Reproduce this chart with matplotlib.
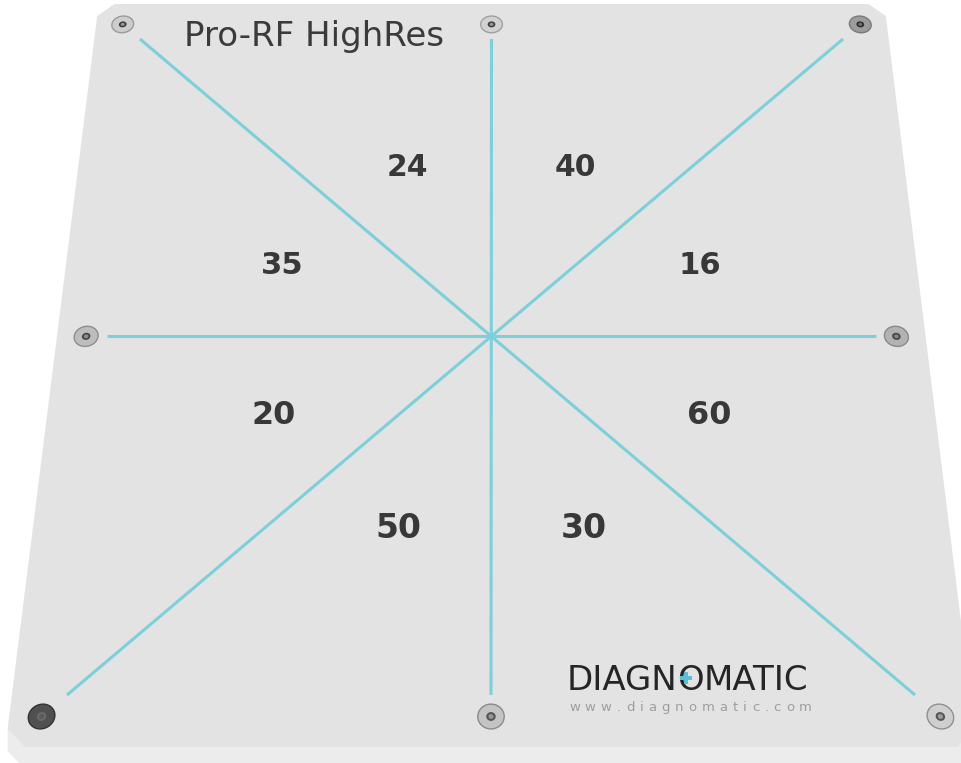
import numpy as np
import matplotlib
matplotlib.use('Agg')
import matplotlib.pyplot as plt
from matplotlib.patches import Polygon

# ---------------- data ----------------
sector_values = ['40', '16', '60', '30', '50', '20', '35', '24']   # clockwise from 12 o'clock
title_text = 'Pro-RF HighRes'
brand_text = 'DIAGNOMATIC'
url_text = 'www.diagnomatic.com'

# ---------------- layout / style ----------------
W, Hpx = 961, 763
spoke_src = np.array([[-1, -1], [1, -1], [-1, 1], [1, 1]], float)
spoke_dst = np.array([[140, 39], [843, 39], [67, 695], [915, 695]], float)
PLATE = 1.13
CHAMFER = 0.045
THICK = 22
LABEL_R = 0.6
SCREW_POS = 1.054
CYAN = '#7dd0d9'
TOP_COL = '#e3e3e3'
FRONT_COL = '#ececec'


def homography(src, dst):
    A, b = [], []
    for (u, v), (x, y) in zip(src, dst):
        A.append([u, v, 1, 0, 0, 0, -u * x, -v * x]); b.append(x)
        A.append([0, 0, 0, u, v, 1, -u * y, -v * y]); b.append(y)
    h = np.linalg.solve(np.array(A, float), np.array(b, float))
    return np.append(h, 1).reshape(3, 3)


Hm = homography(spoke_src, spoke_dst)


def proj(u, v):
    u = np.asarray(u, float); v = np.asarray(v, float)
    w = Hm[2, 0] * u + Hm[2, 1] * v + Hm[2, 2]
    x = (Hm[0, 0] * u + Hm[0, 1] * v + Hm[0, 2]) / w
    y = (Hm[1, 0] * u + Hm[1, 1] * v + Hm[1, 2]) / w
    return x, y


def local_scale(u, v):
    x1, _ = proj(u - 0.01, v)
    x2, _ = proj(u + 0.01, v)
    return (x2 - x1) / 0.02


fig = plt.figure(figsize=(W / 100, Hpx / 100), dpi=100, facecolor='white')
ax = fig.add_axes([0, 0, 1, 1])
ax.set_xlim(0, W)
ax.set_ylim(Hpx, 0)
ax.axis('off')

S, c = PLATE, CHAMFER
outline = np.array([(-S + c, -S), (S - c, -S), (S, -S + c), (S, S - c),
                    (S - c, S), (-S + c, S), (-S, S - c), (-S, -S + c)])
ox, oy = proj(outline[:, 0], outline[:, 1])

# front face (thickness)
bot = np.array([(S, S - c), (S - c, S), (-S + c, S), (-S, S - c)])
bx, by = proj(bot[:, 0], bot[:, 1])
front = np.concatenate([np.column_stack([bx, by]),
                        np.column_stack([bx[::-1], by[::-1] + THICK])])
ax.add_patch(Polygon(front, closed=True, facecolor=FRONT_COL, edgecolor='none', zorder=1))
ax.add_patch(Polygon(np.column_stack([ox, oy]), closed=True, facecolor=TOP_COL,
                     edgecolor='none', zorder=2))

# spokes
for (u0, v0), (u1, v1) in [((-1, -1), (1, 1)), ((1, -1), (-1, 1)),
                           ((0, -1), (0, 1)), ((-1, 0), (1, 0))]:
    x, y = proj([u0, u1], [v0, v1])
    ax.plot(x, y, color=CYAN, lw=2.2, solid_capstyle='butt', zorder=3)

# sector numbers
for k, val in enumerate(sector_values):
    th = np.deg2rad(22.5 + 45 * k)
    u, v = LABEL_R * np.sin(th), -LABEL_R * np.cos(th)
    x, y = proj(u, v)
    fs = 22.5 * local_scale(u, v) / local_scale(0, 0)
    em = fs * 100 / 72
    ax.text(x, y + 0.729 * em / 2, val, ha='center', va='baseline', fontsize=fs,
            fontweight='bold', color='#383838', family='DejaVu Sans', zorder=4)

# screws
screw_uv = [(-1, -1), (0, -1), (1, -1), (-1, 0), (1, 0), (-1, 1), (0, 1), (1, 1)]
screw_face = ['#cdcdcd', '#d2d2d2', '#9c9c9c', '#bdbdbd', '#b2b2b2', '#505050', '#c4c4c4', '#cfcfcf']
screw_rim = ['#9a9a9a', '#a0a0a0', '#7a7a7a', '#8e8e8e', '#8a8a8a', '#333333', '#8a8a8a', '#8f8f8f']
screw_hole = ['#3a3a3a', '#3a3a3a', '#2a2a2a', '#444444', '#444444', '#6a6a6a', '#555555', '#555555']
phi = np.linspace(0, 2 * np.pi, 60)
for (su, sv), fc, rc, hc in zip(screw_uv, screw_face, screw_rim, screw_hole):
    cu, cv = su * SCREW_POS, sv * SCREW_POS
    for rad, f, e, lw in [(0.031, fc, rc, 1.0), (0.011, hc, 'none', 0)]:
        x, y = proj(cu + rad * np.cos(phi), cv + rad * np.sin(phi))
        ax.add_patch(Polygon(np.column_stack([x, y]), closed=True, facecolor=f,
                             edgecolor=e, lw=lw, zorder=5))
    x, y = proj(cu + 0.006 * np.cos(phi), cv + 0.006 * np.sin(phi))
    ax.add_patch(Polygon(np.column_stack([x, y]), closed=True, facecolor=fc,
                         edgecolor='none', alpha=0.6, zorder=6))

# title
ax.text(184, 46, title_text, ha='left', va='baseline', fontsize=24.5,
        color='#3b3b3b', family='DejaVu Sans', zorder=4)

# logo: drawn in three pieces so the O can carry the cyan cross
BR_FS = 24.5
BR_X, BR_Y = 567, 690
fig.canvas.draw()
r = fig.canvas.get_renderer()
pieces = [brand_text[:5], brand_text[5], brand_text[6:]]
gap = -0.5
xx = BR_X
o_box = None
for i, piece in enumerate(pieces):
    t = ax.text(xx, BR_Y, piece, ha='left', va='baseline', fontsize=BR_FS,
                color='#252525', family='DejaVu Sans', zorder=4)
    bb = t.get_window_extent(r)
    if i == 1:
        o_box = bb
    xx += bb.width + gap
ocx = (o_box.x0 + o_box.x1) / 2 - 5
ocy = BR_Y - 0.729 * BR_FS * 100 / 72 / 2
ax.plot([ocx], [ocy], marker='P', markersize=9, color='#5dbfd2',
        markeredgewidth=0, zorder=5)

# url with wide letter spacing
URL_FS = 9.5
widths = []
for ch in url_text:
    t = ax.text(0, 0, ch, fontsize=URL_FS, family='DejaVu Sans', alpha=0)
    widths.append(t.get_window_extent(r).width)
    t.remove()
x_start, x_end = 569, 812
track = (x_end - x_start - sum(widths)) / (len(url_text) - 1)
xx = x_start
for ch, wdt in zip(url_text, widths):
    ax.text(xx, 711, ch, ha='left', va='baseline', fontsize=URL_FS,
            color='#9e9e9e', family='DejaVu Sans', zorder=4)
    xx += wdt + track

fig.savefig('out.png', dpi=100, facecolor='white')
